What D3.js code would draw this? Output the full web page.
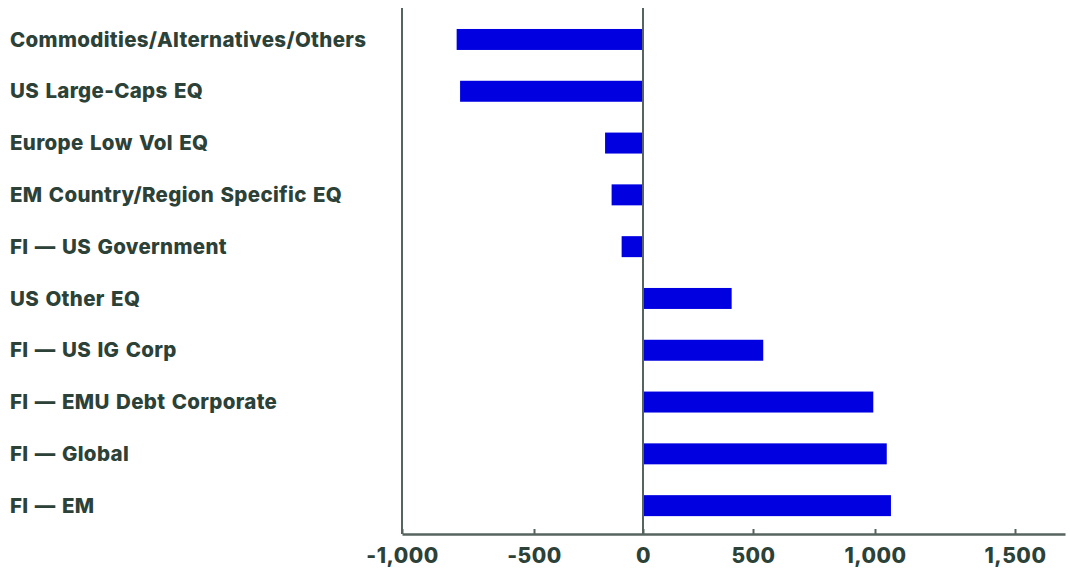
<!DOCTYPE html>
<html>
<head>
<meta charset="utf-8">
<script src="https://cdn.jsdelivr.net/npm/d3@7"></script>
<style>
  html, body { margin: 0; padding: 0; background: #ffffff; }
  svg { display: block; }
  .lbl { font-family: Inter, "Open Sans", sans-serif; font-weight: 800; fill: #2c4137; }
</style>
</head>
<body>
<svg id="chart" width="1070" height="568"></svg>
<script>
// Net flows by category
const categories = [
  "Commodities/Alternatives/Others",
  "US Large-Caps EQ",
  "Europe Low Vol EQ",
  "EM Country/Region Specific EQ",
  "FI \u2014 US Government",
  "US Other EQ",
  "FI \u2014 US IG Corp",
  "FI \u2014 EMU Debt Corporate",
  "FI \u2014 Global",
  "FI \u2014 EM"
];
const values = [-793, -780, -174, -144, -98, 403, 542, 993, 1042, 1057];
const tickValues = [-1000, -500, 0, 500, 1000, 1500];
const tickLabels = ["-1,000", "-500", "0", "500", "1,000", "1,500"];

const svg = d3.select("#chart");
const axisColor = "#56635e";
const barColor = "#0000e1";

// Horizontal value scale (piecewise, following the printed tick spacing)
const x = d3.scaleLinear()
  .domain([-1000, -500, 0, 500, 1000, 1500, 1680])
  .range([402, 534, 643, 753, 875, 1015, 1065]);

const y = d3.scaleBand()
  .domain(categories)
  .range([8, 534])
  .paddingInner(0.595)
  .paddingOuter(0.375)
  .align(0.54);

// Bars
svg.append("g").selectAll("rect")
  .data(categories)
  .join("rect")
  .attr("x", (d, i) => Math.min(x(0), x(values[i])))
  .attr("width", (d, i) => Math.abs(x(values[i]) - x(0)))
  .attr("y", d => y(d))
  .attr("height", y.bandwidth())
  .attr("fill", barColor);

// Category labels
svg.append("g").selectAll("text")
  .data(categories)
  .join("text")
  .attr("class", "lbl")
  .attr("x", 10)
  .attr("y", d => y(d) + y.bandwidth() / 2)
  .attr("dy", "0.35em")
  .style("font-size", "20.5px")
  .style("letter-spacing", "0.33px")
  .style("word-spacing", "1.5px")
  .text(d => d);

// Left frame line and zero line
svg.append("line")
  .attr("x1", x(-1000)).attr("x2", x(-1000))
  .attr("y1", 8).attr("y2", 534)
  .attr("stroke", axisColor).attr("stroke-width", 2);

svg.append("line")
  .attr("x1", x(0)).attr("x2", x(0))
  .attr("y1", 8).attr("y2", 534)
  .attr("stroke", axisColor).attr("stroke-width", 2);

// Bottom axis
const xAxis = d3.axisBottom(x)
  .tickValues(tickValues)
  .tickFormat((d, i) => tickLabels[i])
  .tickSizeInner(-5)
  .tickSizeOuter(0)
  .tickPadding(14);

const gx = svg.append("g")
  .attr("transform", "translate(0,534)")
  .call(xAxis);

gx.select(".domain").attr("stroke", axisColor).attr("stroke-width", 2.5);
gx.selectAll(".tick line").attr("stroke", axisColor).attr("stroke-width", 2);
gx.selectAll(".tick text")
  .attr("class", "lbl")
  .style("font-size", "21px")
  .style("letter-spacing", "0.5px")
  .attr("fill", "#2c4137");
</script>
</body>
</html>
